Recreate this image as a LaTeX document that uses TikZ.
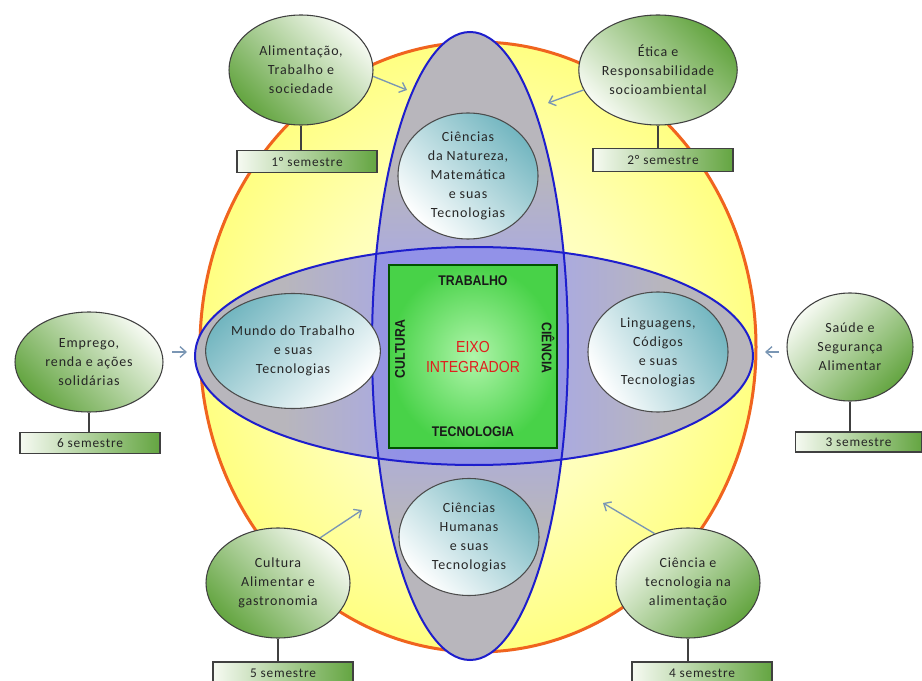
\documentclass[tikz,border=0pt]{standalone}
\usepackage{fontspec}
\setmainfont[LetterSpace=6]{Carlito}
\newfontfamily\capsfam[FakeStretch=0.88]{Liberation Sans}
\usetikzlibrary{shapes.geometric,arrows.meta}
\definecolor{orangeb}{RGB}{240,100,30}
\definecolor{yelA}{RGB}{255,255,228}
\definecolor{yelB}{RGB}{255,255,130}
\definecolor{lgray}{RGB}{184,182,188}
\definecolor{lav}{RGB}{168,168,230}
\definecolor{lavD}{RGB}{120,120,235}
\definecolor{blueb}{RGB}{30,30,205}
\definecolor{gsqA}{RGB}{175,245,170}
\definecolor{gsqB}{RGB}{72,210,72}
\definecolor{tealA}{RGB}{115,182,192}
\definecolor{tealM}{RGB}{200,226,230}
\definecolor{gdark}{RGB}{100,165,65}
\definecolor{gmid}{RGB}{214,232,200}
\definecolor{glight}{RGB}{246,250,242}
\definecolor{arrc}{RGB}{122,150,180}
\definecolor{redt}{RGB}{225,30,30}
\pgfdeclareradialshading{yelsh}{\pgfpoint{0bp}{0bp}}{color(0bp)=(yelA); color(14bp)=(yelA!55!yelB); color(25bp)=(yelB); color(50bp)=(yelB)}
\pgfdeclareverticalshading{vsh}{100bp}{color(0bp)=(lgray); color(36bp)=(lgray); color(45bp)=(lav); color(55bp)=(lav); color(64bp)=(lgray); color(100bp)=(lgray)}
\pgfdeclarehorizontalshading{hsh}{100bp}{color(0bp)=(lgray); color(33bp)=(lgray); color(44bp)=(lav); color(56bp)=(lav); color(67bp)=(lgray); color(100bp)=(lgray)}
\pgfdeclareradialshading{sqsh}{\pgfpoint{0bp}{0bp}}{color(0bp)=(gsqA); color(25bp)=(gsqB); color(50bp)=(gsqB)}
\newcommand\ellfont{\fontsize{10.5}{14.25}\selectfont}
\newcommand\boxfont{\fontsize{10}{12}\selectfont}
\newcommand\capfont{\capsfam\bfseries\fontsize{10.5}{12}\selectfont}
\newcommand\redfont{\capsfam\fontsize{12}{15}\selectfont}
\begin{document}
\begin{tikzpicture}[x=0.75pt,y=-0.75pt,
  bigell/.style={ellipse, inner sep=0pt, outer sep=0pt},
  gell/.style={ellipse, draw=black!75, line width=0.8pt, inner sep=0pt,
    shading=axis, top color=glight, middle color=gmid, bottom color=gdark, shading angle=#1,
    align=center, font=\ellfont, text=black!85,
    minimum width=108pt, minimum height=82.5pt},
  gell/.default=0,
  iell/.style={ellipse, draw=black!70, line width=0.8pt, inner sep=0pt,
    shading=axis, top color=tealA, middle color=tealM, bottom color=white, shading angle=#1,
    align=center, font=\ellfont, text=black!85,
    minimum width=105pt, minimum height=90pt},
  iell/.default=0,
  sembox/.style={rectangle, draw=black!75, line width=0.8pt, inner sep=0pt,
    left color=glight, right color=gdark, font=\boxfont, text=black!85,
    minimum width=105pt, minimum height=17pt},
  stem/.style={draw=black!75, line width=0.8pt},
  arr/.style={draw=arrc, line width=1pt, -{Straight Barb[length=4.5pt,width=8pt]}},
  captxt/.style={font=\capfont, text=black!90, inner sep=0pt},
  redtxt/.style={font=\redfont, text=redt, align=center, inner sep=0pt}
]
\useasboundingbox (0,0) rectangle (922,681);
\fill[white] (0,0) rectangle (922,681);

% big circle
\node[bigell, shading=yelsh, draw=orangeb, line width=2.25pt,
      minimum width=417pt, minimum height=457.5pt] (circ) at (478,347) {};

% vertical and horizontal ellipses
\node[bigell, shading=vsh, minimum width=147pt, minimum height=471pt] (vell) at (470,346) {};
\node[bigell, shading=hsh, minimum width=418.5pt, minimum height=163.5pt] (hell) at (474,356) {};
\begin{scope}
  \clip (hell.center) ellipse [x radius=209.25pt, y radius=81.75pt];
  \fill[lavD, opacity=0.45] (vell.center) ellipse [x radius=73.5pt, y radius=235.5pt];
\end{scope}
\draw[blueb, line width=1.5pt] (vell.center) ellipse [x radius=73.5pt, y radius=235.5pt];
\draw[blueb, line width=1.5pt] (hell.center) ellipse [x radius=209.25pt, y radius=81.75pt];

% green square
\node[shading=sqsh, draw=black!60!green!80!black, line width=0.8pt, inner sep=0pt,
      minimum width=126pt, minimum height=137.25pt] (sq) at (473,356.5) {};
\node[captxt] (trab) at (473,281) {TRABALHO};
\node[captxt] (tecn) at (473,432) {TECNOLOGIA};
\node[captxt, rotate=90] (cult) at (400,349) {CULTURA};
\node[captxt, rotate=-90] (cien) at (548,348) {CIÊNCIA};
\node[redtxt] (eixo) at (473,357) {EIXO\\INTEGRADOR};

% inner ellipses
\node[iell=-45, minimum height=94.5pt] (cn) at (468,176) {Ciências\\da Natureza,\\Matemática\\e suas\\Tecnologias};
\node[iell=45, minimum height=86.25pt] (mt) at (293,351) {Mundo do Trabalho\\e suas\\Tecnologias};
\node[iell=-60] (lc) at (658,352) {Linguagens,\\Códigos\\e suas\\Tecnologias};
\node[iell=-45, minimum height=87.75pt] (ch) at (469,537) {Ciências\\Humanas\\e suas\\Tecnologias};

% outer green ellipses
\node[gell=-45] (tl) at (301,70) {Alimentação,\\Trabalho e\\sociedade};
\node[gell=135] (tr) at (658,70) {Ética e\\Responsabilidade\\socioambiental};
\node[gell=-45, minimum width=111pt, minimum height=75pt] (lf) at (89,362) {Emprego,\\renda e ações\\solidárias};
\node[gell=45, minimum width=94.5pt, minimum height=81pt] (rt) at (850,347) {Saúde e\\Segurança\\Alimentar};
\node[gell=-45] (bl) at (278,583) {Cultura\\Alimentar e\\gastronomia};
\node[gell=45] (br) at (688,583) {Ciência e\\tecnologia na\\alimentação};

% semester boxes
\node[sembox] (s1) at (307,161.5) {1° semestre};
\node[sembox, minimum height=17.5pt] (s2) at (663,160) {2° semestre};
\node[sembox, minimum width=105pt, minimum height=15.75pt] (s6) at (90,443) {6 semestre};
\node[sembox, minimum width=95pt, minimum height=15pt] (s3) at (858.5,442) {3 semestre};
\node[sembox, minimum height=16.5pt] (s5) at (283,673) {5 semestre};
\node[sembox, minimum height=16.5pt] (s4) at (702,673) {4 semestre};

% stems
\draw[stem] (tl.south) -- (tl.south |- s1.north);
\draw[stem] (tr.south) -- (tr.south |- s2.north);
\draw[stem] (lf.south) -- (lf.south |- s6.north);
\draw[stem] (rt.south) -- (rt.south |- s3.north);
\draw[stem] (bl.south) -- (bl.south |- s5.north);
\draw[stem] (br.south) -- (br.south |- s4.north);

% arrows
\coordinate (a1) at (407,90);
\coordinate (a2) at (548,103);
\coordinate (a3s) at (172,352);
\coordinate (a3) at (187,352);
\coordinate (a4s) at (779,352);
\coordinate (a4) at (765,352);
\coordinate (a5) at (362,510);
\coordinate (a6) at (603,503);
\draw[arr] (tl.-5) -- (a1);
\draw[arr] (tr.195) -- (a2);
\draw[arr] (a3s) -- (a3);
\draw[arr] (a4s) -- (a4);
\draw[arr] (bl.47) -- (a5);
\draw[arr] (br.124) -- (a6);
\end{tikzpicture}
\end{document}
